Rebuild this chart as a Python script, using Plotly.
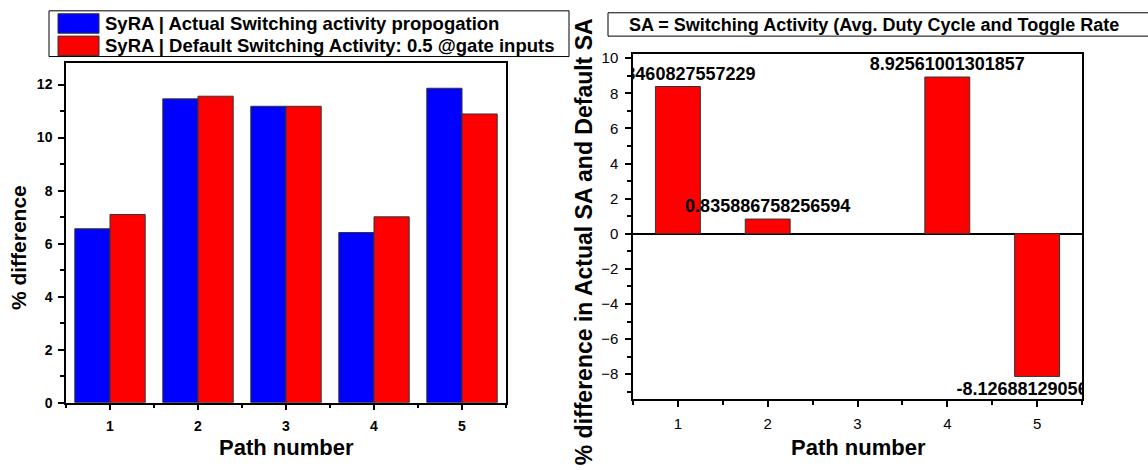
import plotly.graph_objects as go

# ---------------- data ----------------
paths = [1, 2, 3, 4, 5]
actual_sa = [6.56, 11.46, 11.18, 6.42, 11.86]
default_sa = [7.10, 11.56, 11.18, 7.01, 10.89]
pct_diff = [8.38460827557229, 0.835886758256594, 0, 8.92561001301857, -8.12688129056012]
pct_diff_labels = ["8.38460827557229", "0.835886758256594", "", "8.92561001301857", "-8.12688129056012"]

name_actual = "SyRA | Actual Switching activity propogation"
name_default = "SyRA | Default Switching Activity: 0.5 @gate inputs"
box_note = "SA = Switching Activity (Avg. Duty Cycle and Toggle Rate"
left_ytitle = "% difference"
right_ytitle = "% difference in Actual SA and Default SA"
xtitle = "Path number"

W, H = 1148, 470
FONT = "Arial, Liberation Sans, sans-serif"
BLUE, RED = "#0000FF", "#FF0000"


def px(x):
    return x / W


def py(y):
    return 1 - y / H


fig = go.Figure()

fig.add_trace(go.Bar(x=paths, y=actual_sa, name=name_actual, marker=dict(color=BLUE, line=dict(color="#333333", width=1)),
                     xaxis="x", yaxis="y", showlegend=False))
fig.add_trace(go.Bar(x=paths, y=default_sa, name=name_default, marker=dict(color=RED, line=dict(color="#333333", width=1)),
                     xaxis="x", yaxis="y", showlegend=False))
fig.add_trace(go.Bar(x=paths, y=pct_diff, width=0.5, text=pct_diff_labels, textposition="outside",
                     textfont=dict(family=FONT, size=18, weight="bold", color="black"),
                     constraintext="none", cliponaxis=True,
                     marker=dict(color=RED, line=dict(color="#333333", width=[0 if v == 0 else 1 for v in pct_diff])),
                     xaxis="x2", yaxis="y2", showlegend=False))

LDOM_X = [px(66), px(506)]
LDOM_Y = [py(409), py(60)]
RDOM_X = [px(633), px(1082)]
RDOM_Y = [py(405.7), py(50.7)]

bold_tick = dict(family=FONT, size=14, color="black", weight="bold")
reg_tick = dict(family=FONT, size=15, color="black")

common_x = dict(range=[0.5, 5.5], tickmode="linear", tick0=1, dtick=1, ticks="outside", ticklen=6, tickwidth=1.5,
                tickcolor="black", showline=True, linewidth=1.5, linecolor="black", mirror=True, showgrid=False,
                zeroline=False, ticklabelstandoff=4,
                minor=dict(ticks="outside", dtick=0.5, tick0=0.5, ticklen=4, tickwidth=1.5, tickcolor="black"))

fig.update_layout(
    width=W, height=H, margin=dict(l=0, r=0, t=0, b=0),
    paper_bgcolor="white", plot_bgcolor="white",
    barmode="group", bargap=0.2, bargroupgap=0,
    font=dict(family=FONT, color="black"),
    xaxis=dict(domain=LDOM_X, anchor="y", tickfont=bold_tick, **common_x),
    yaxis=dict(domain=LDOM_Y, anchor="x", range=[0, 12.8], tickmode="linear", tick0=0, dtick=2, ticks="outside",
               ticklen=6, tickwidth=1.5, tickcolor="black", showline=True, linewidth=1.5, linecolor="black",
               mirror=True, showgrid=False, zeroline=False, tickfont=bold_tick, ticklabelstandoff=3,
               minor=dict(ticks="outside", dtick=1, tick0=0, ticklen=4, tickwidth=1.5, tickcolor="black")),
    xaxis3=dict(overlaying="x", anchor="y", side="top", range=[0.5, 5.5], tickmode="linear", tick0=1, dtick=1,
                ticks="inside", ticklen=6, tickwidth=1.5, tickcolor="black", showticklabels=False, showgrid=False,
                zeroline=False, showline=False,
                minor=dict(ticks="inside", dtick=0.5, tick0=0.5, ticklen=4, tickwidth=1.5, tickcolor="black")),
    yaxis3=dict(overlaying="y", anchor="x", side="right", range=[0, 13.3], tickmode="linear", tick0=0, dtick=2,
                ticks="inside", ticklen=6, tickwidth=1.5, tickcolor="black", showticklabels=False, showgrid=False,
                zeroline=False, showline=False),
    xaxis2=dict(domain=RDOM_X, anchor="y2", tickfont=reg_tick, **common_x),
    yaxis2=dict(domain=RDOM_Y, anchor="x2", range=[-9.44, 10.22], tickmode="linear", tick0=0, dtick=2,
                ticks="outside", ticklen=6, tickwidth=1.5, tickcolor="black", showline=True, linewidth=1.5,
                linecolor="black", mirror=True, showgrid=False, zeroline=True, zerolinecolor="black",
                zerolinewidth=1.5, tickfont=reg_tick, ticklabelstandoff=4,
                minor=dict(ticks="outside", dtick=1, tick0=0, ticklen=4, tickwidth=1.5, tickcolor="black")),
    xaxis4=dict(overlaying="x2", anchor="y2", side="top", range=[0.5, 5.5], tickmode="linear", tick0=1, dtick=1,
                ticks="inside", ticklen=6, tickwidth=1.5, tickcolor="black", showticklabels=False, showgrid=False,
                zeroline=False, showline=False,
                minor=dict(ticks="inside", dtick=0.5, tick0=0.5, ticklen=4, tickwidth=1.5, tickcolor="black")),
    yaxis4=dict(overlaying="y2", anchor="x2", side="right", range=[-10, 10], tickmode="linear", tick0=0, dtick=2,
                ticks="inside", ticklen=6, tickwidth=1.5, tickcolor="black", showticklabels=False, showgrid=False,
                zeroline=False, showline=False),
)

title_font = dict(family=FONT, size=22, color="black", weight="bold")
ann = [
    dict(text=left_ytitle, x=px(18), y=py(250), textangle=-90, font=dict(family=FONT, size=21, color="black", weight="bold")),
    dict(text=right_ytitle, x=px(584), y=py(244), textangle=-90, font=dict(family=FONT, size=23, color="black", weight="bold")),
    dict(text=xtitle, x=px(286), y=py(455), font=title_font),
    dict(text=xtitle, x=px(858), y=py(455), font=title_font),
]
for a in ann:
    a.update(xref="paper", yref="paper", xanchor="center", yanchor="middle", showarrow=False)

legend_font = dict(family=FONT, size=18.5, color="black", weight="bold")
ann += [
    dict(text=name_actual, x=px(103), y=py(19), xref="paper", yref="paper", xanchor="left", yanchor="middle",
         showarrow=False, font=legend_font),
    dict(text=name_default, x=px(103), y=py(42), xref="paper", yref="paper", xanchor="left", yanchor="middle",
         showarrow=False, font=legend_font),
    dict(text=box_note, x=px(627), y=py(21), xref="paper", yref="paper", xanchor="left", yanchor="middle",
         showarrow=False, font=dict(family=FONT, size=18, color="black", weight="bold")),
]
fig.update_layout(annotations=ann)

shapes = [
    dict(type="rect", xref="paper", yref="paper", x0=px(49), x1=px(569), y0=py(53), y1=py(6),
         line=dict(color="black", width=1), fillcolor="rgba(0,0,0,0)"),
    dict(type="rect", xref="paper", yref="paper", x0=px(58), x1=px(99), y0=py(29), y1=py(9),
         line=dict(color="#333333", width=1), fillcolor=BLUE),
    dict(type="rect", xref="paper", yref="paper", x0=px(58), x1=px(99), y0=py(52), y1=py(32),
         line=dict(color="#333333", width=1), fillcolor=RED),
    dict(type="rect", xref="paper", yref="paper", x0=px(608), x1=1.02, y0=py(32), y1=py(8),
         line=dict(color="black", width=1), fillcolor="rgba(0,0,0,0)"),
]
fig.update_layout(shapes=shapes)

fig.write_html("out.html")
